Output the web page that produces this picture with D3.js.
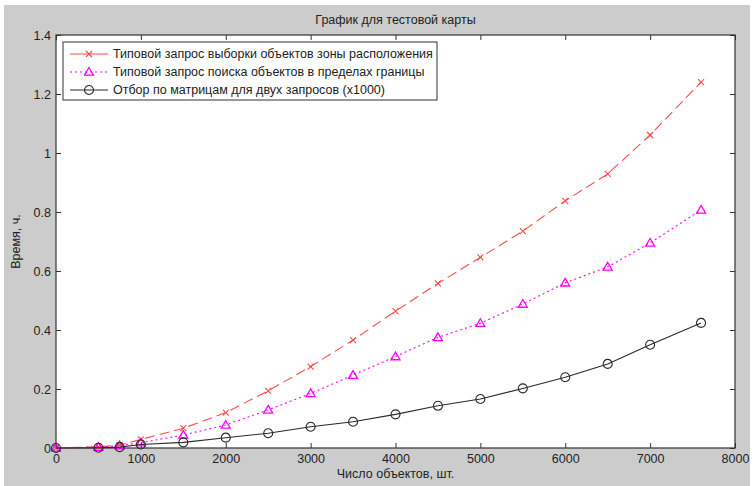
<!DOCTYPE html>
<html>
<head>
<meta charset="utf-8">
<script src="https://cdn.jsdelivr.net/npm/d3@7"></script>
<style>
  body { margin: 0; background: #fff; }
  text { font-family: "Liberation Sans", Arial, sans-serif; fill: #222; }
</style>
</head>
<body>
<svg id="chart" width="756" height="486"></svg>
<script>
// objects count
var objects = [0, 500, 750, 1000, 1500, 2000, 2500, 3000, 3500, 4000, 4500, 5000, 5500, 6000, 6500, 7000, 7600];
var zoneQuery = [0, 0.004, 0.01, 0.029, 0.067, 0.12, 0.194, 0.276, 0.366, 0.464, 0.558, 0.646, 0.735, 0.838, 0.929, 1.061, 1.24];
var borderQuery = [0, 0.003, 0.008, 0.018, 0.044, 0.078, 0.129, 0.185, 0.247, 0.31, 0.375, 0.423, 0.488, 0.56, 0.614, 0.695, 0.807];
var matrixSelect = [0, 0.001, 0.003, 0.012, 0.019, 0.035, 0.05, 0.072, 0.089, 0.114, 0.143, 0.166, 0.202, 0.24, 0.285, 0.35, 0.424];
var xTicks = [0, 1000, 2000, 3000, 4000, 5000, 6000, 7000, 8000];
var yTicks = [0, 0.2, 0.4, 0.6, 0.8, 1, 1.2, 1.4];
var seriesNames = [
  "Типовой запрос выборки объектов зоны расположения",
  "Типовой запрос поиска объектов в пределах границы",
  "Отбор по матрицам для двух запросов (x1000)"
];

var svg = d3.select("#chart");
svg.append("rect").attr("x", 4).attr("y", 5).attr("width", 746).attr("height", 481).attr("fill", "#cccccc");

var margin = { top: 35, right: 21, bottom: 38, left: 56 };
var width = 756 - margin.left - margin.right;
var height = 486 - margin.top - margin.bottom;

var x = d3.scaleLinear().domain([0, 8000]).range([0, width]);
var y = d3.scaleLinear().domain([0, 1.4]).range([height, 0]);

var g = svg.append("g").attr("transform", "translate(" + margin.left + "," + margin.top + ")");
g.append("rect").attr("width", width).attr("height", height).attr("fill", "#fff");

// axes, matlab style: ticks inward on all sides
function styleAxis(sel) {
  sel.select(".domain").remove();
  sel.selectAll("line").attr("stroke", "#333");
  sel.selectAll("text").style("font-size", "12.5px").attr("fill", "#333");
}
g.append("g").attr("transform", "translate(0," + height + ")")
  .call(d3.axisBottom(x).tickValues(xTicks).tickSizeInner(-5).tickSizeOuter(0).tickPadding(6).tickFormat(d3.format("d")))
  .call(styleAxis);
g.append("g")
  .call(d3.axisTop(x).tickValues(xTicks).tickSizeInner(-5).tickSizeOuter(0).tickFormat(""))
  .call(styleAxis);
g.append("g")
  .call(d3.axisLeft(y).tickValues(yTicks).tickSizeInner(-5).tickSizeOuter(0).tickPadding(5).tickFormat(d => d3.format("~g")(d)))
  .call(styleAxis);
g.append("g").attr("transform", "translate(" + width + ",0)")
  .call(d3.axisRight(y).tickValues(yTicks).tickSizeInner(-5).tickSizeOuter(0).tickFormat(""))
  .call(styleAxis);
g.append("rect").attr("width", width).attr("height", height).attr("fill", "none").attr("stroke", "#333").attr("stroke-width", 1.2);

var series = [
  { name: seriesNames[0], values: zoneQuery, color: "#ff4a4a", dash: "10,5", marker: "x" },
  { name: seriesNames[1], values: borderQuery, color: "#ff00ff", dash: "2,3", marker: "tri" },
  { name: seriesNames[2], values: matrixSelect, color: "#2a2a2a", dash: null, marker: "o" }
];

function drawMarker(sel, type, color) {
  if (type === "x") {
    sel.append("path").attr("d", "M-3,-3L3,3M-3,3L3,-3").attr("stroke", color).attr("stroke-width", 1.1).attr("fill", "none");
  } else if (type === "tri") {
    sel.append("path").attr("d", "M0,-4.5L4.5,3.2L-4.5,3.2Z").attr("stroke", color).attr("stroke-width", 1.3).attr("fill", "none");
  } else {
    sel.append("circle").attr("r", 4.5).attr("stroke", color).attr("stroke-width", 1.1).attr("fill", "none");
  }
}

var line = d3.line().x(d => x(d[0])).y(d => y(d[1]));
series.forEach(function (s) {
  var pts = objects.map((o, i) => [o, s.values[i]]);
  g.append("path").datum(pts).attr("d", line)
    .attr("fill", "none").attr("stroke", s.color).attr("stroke-width", 1.1)
    .attr("stroke-dasharray", s.dash);
  pts.forEach(function (p) {
    var m = g.append("g").attr("transform", "translate(" + x(p[0]) + "," + y(p[1]) + ")");
    drawMarker(m, s.marker, s.color);
  });
});

// legend
var lg = g.append("g").attr("transform", "translate(7,7)");
lg.append("rect").attr("width", 374).attr("height", 58).attr("fill", "#fff").attr("stroke", "#333");
series.forEach(function (s, i) {
  var row = lg.append("g").attr("transform", "translate(0," + (12 + i * 18) + ")");
  row.append("line").attr("x1", 7).attr("x2", 45).attr("stroke", s.color).attr("stroke-width", 1.1)
    .attr("stroke-dasharray", s.dash === "10,5" ? null : s.dash);
  drawMarker(row.append("g").attr("transform", "translate(26,0)"), s.marker, s.color);
  row.append("text").attr("x", 50).attr("dy", "0.35em").style("font-size", "12.5px").text(s.name);
});

svg.append("text").attr("x", margin.left + width / 2).attr("y", 24).attr("text-anchor", "middle")
  .style("font-size", "12.5px").text("График для тестовой карты");
svg.append("text").attr("x", margin.left + width / 2).attr("y", 478).attr("text-anchor", "middle")
  .style("font-size", "12.5px").text("Число объектов, шт.");
svg.append("text").attr("transform", "translate(20," + (margin.top + height / 2) + ") rotate(-90)")
  .attr("text-anchor", "middle").style("font-size", "12.5px").text("Время, ч.");
</script>
</body>
</html>
